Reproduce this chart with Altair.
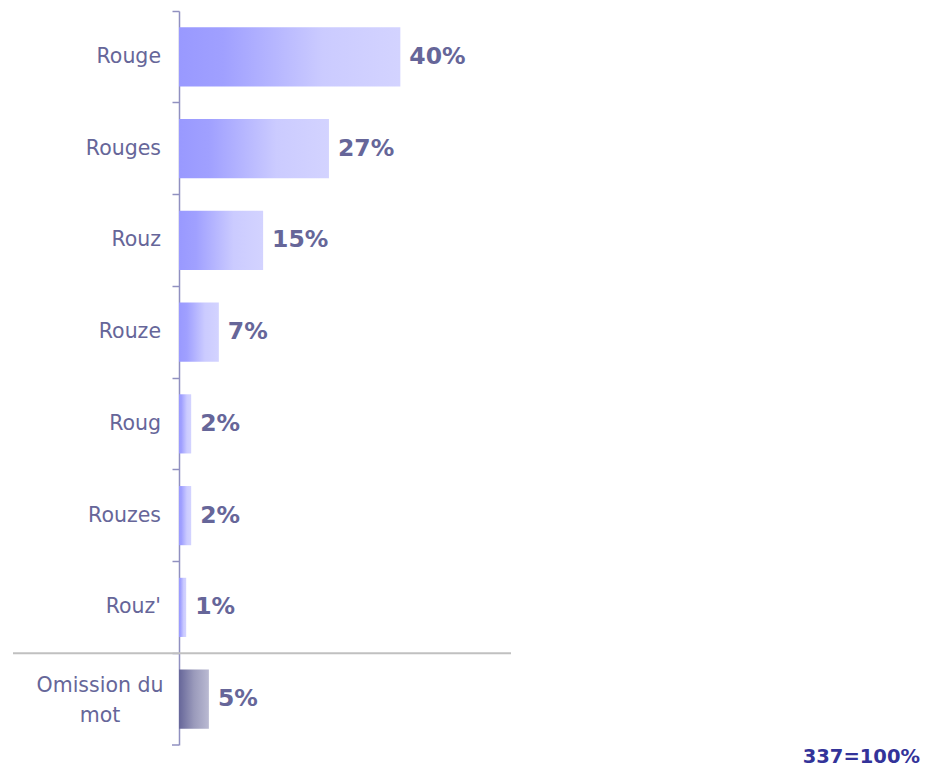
import altair as alt
import pandas as pd

categories = ["Rouge", "Rouges", "Rouz", "Rouze", "Roug", "Rouzes", "Rouz'", "Omission du mot"]
values = [40, 27.1, 15.2, 7.2, 2.2, 2.2, 1.3, 5.4]
value_labels = ["40%", "27%", "15%", "7%", "2%", "2%", "1%", "5%"]
groups = ["main", "main", "main", "main", "main", "main", "main", "omission"]
footnote = "337=100%"

df = pd.DataFrame({"cat": categories, "val": values, "lab": value_labels, "grp": groups})

W, H = 332, 734
LABEL_COLOR = "#666699"
AXIS_COLOR = "#9090c0"
FONT = "DejaVu Sans"

yscale = alt.Scale(domain=categories, paddingInner=0, paddingOuter=0)
xscale = alt.Scale(domain=[0, 60])

base = alt.Chart(df)

main_grad = alt.LinearGradient(
    gradient="linear", x1=0, x2=1, y1=0, y2=0,
    stops=[
        alt.GradientStop(color="#9999ff", offset=0),
        alt.GradientStop(color="#a0a0ff", offset=0.2),
        alt.GradientStop(color="#cbcbff", offset=0.65),
        alt.GradientStop(color="#d3d3ff", offset=1),
    ],
)
om_grad = alt.LinearGradient(
    gradient="linear", x1=0, x2=1, y1=0, y2=0,
    stops=[
        alt.GradientStop(color="#666699", offset=0),
        alt.GradientStop(color="#9a9abb", offset=0.5),
        alt.GradientStop(color="#babad2", offset=1),
    ],
)

yaxis = alt.Axis(
    title=None, labels=False, domainColor=AXIS_COLOR, tickColor=AXIS_COLOR,
    tickSize=7, bandPosition=0, domainWidth=1.5, tickWidth=1.5, grid=False,
)

BAND = alt.RelativeBandSize(0.645)

bars_main = base.transform_filter(alt.datum.grp == "main").mark_bar(fill=main_grad, height=BAND).encode(
    x=alt.X("val:Q", scale=xscale, axis=None),
    y=alt.Y("cat:N", scale=yscale, sort=categories, axis=yaxis),
)
bars_om = base.transform_filter(alt.datum.grp == "omission").mark_bar(fill=om_grad, height=BAND).encode(
    x=alt.X("val:Q", scale=xscale, axis=None),
    y=alt.Y("cat:N", scale=yscale, sort=categories),
)

pct = base.mark_text(align="left", baseline="middle", dx=9, fontSize=23.5, fontWeight="bold",
                     font=FONT, color=LABEL_COLOR).encode(
    x=alt.X("val:Q", scale=xscale),
    y=alt.Y("cat:N", scale=yscale, sort=categories),
    text="lab:N",
)

cat_main = base.transform_filter(alt.datum.grp == "main").mark_text(
    align="right", baseline="middle", fontSize=20.5, font=FONT, color=LABEL_COLOR
).encode(
    x=alt.value(-18),
    y=alt.Y("cat:N", scale=yscale, sort=categories),
    text="cat:N",
)
cat_om = base.transform_filter(alt.datum.grp == "omission").mark_text(
    align="center", baseline="middle", fontSize=20.5, font=FONT, color=LABEL_COLOR,
    lineBreak="|", lineHeight=30, dy=-13
).encode(
    x=alt.value(-79),
    y=alt.Y("cat:N", scale=yscale, sort=categories),
    text=alt.value("Omission du|mot"),
)

sep = alt.Chart(pd.DataFrame({"a": [0]})).mark_rule(color="#c0c0c0", strokeWidth=2).encode(
    x=alt.value(-166), x2=alt.value(W), y=alt.value(H * 7 / 8)
)
bottom_tick = alt.Chart(pd.DataFrame({"a": [0]})).mark_rule(color=AXIS_COLOR, strokeWidth=1.5).encode(
    x=alt.value(-7), x2=alt.value(0), y=alt.value(H)
)
foot = alt.Chart(pd.DataFrame({"t": [footnote]})).mark_text(
    align="right", baseline="bottom", fontSize=19.5, fontWeight="bold", font=FONT, color="#333399"
).encode(
    x=alt.value(741), y=alt.value(H + 22), text="t:N"
)

chart = alt.layer(sep, bars_main, bars_om, pct, cat_main, cat_om, bottom_tick, foot).properties(
    width=W, height=H,
    background="white",
    autosize=alt.AutoSizeParams(type="none"),
    padding={"left": 171, "top": 3, "right": 411, "bottom": 22},
).configure_view(stroke=None, strokeWidth=0)

chart.save("out.html", embed_options={"renderer": "svg", "actions": False})
